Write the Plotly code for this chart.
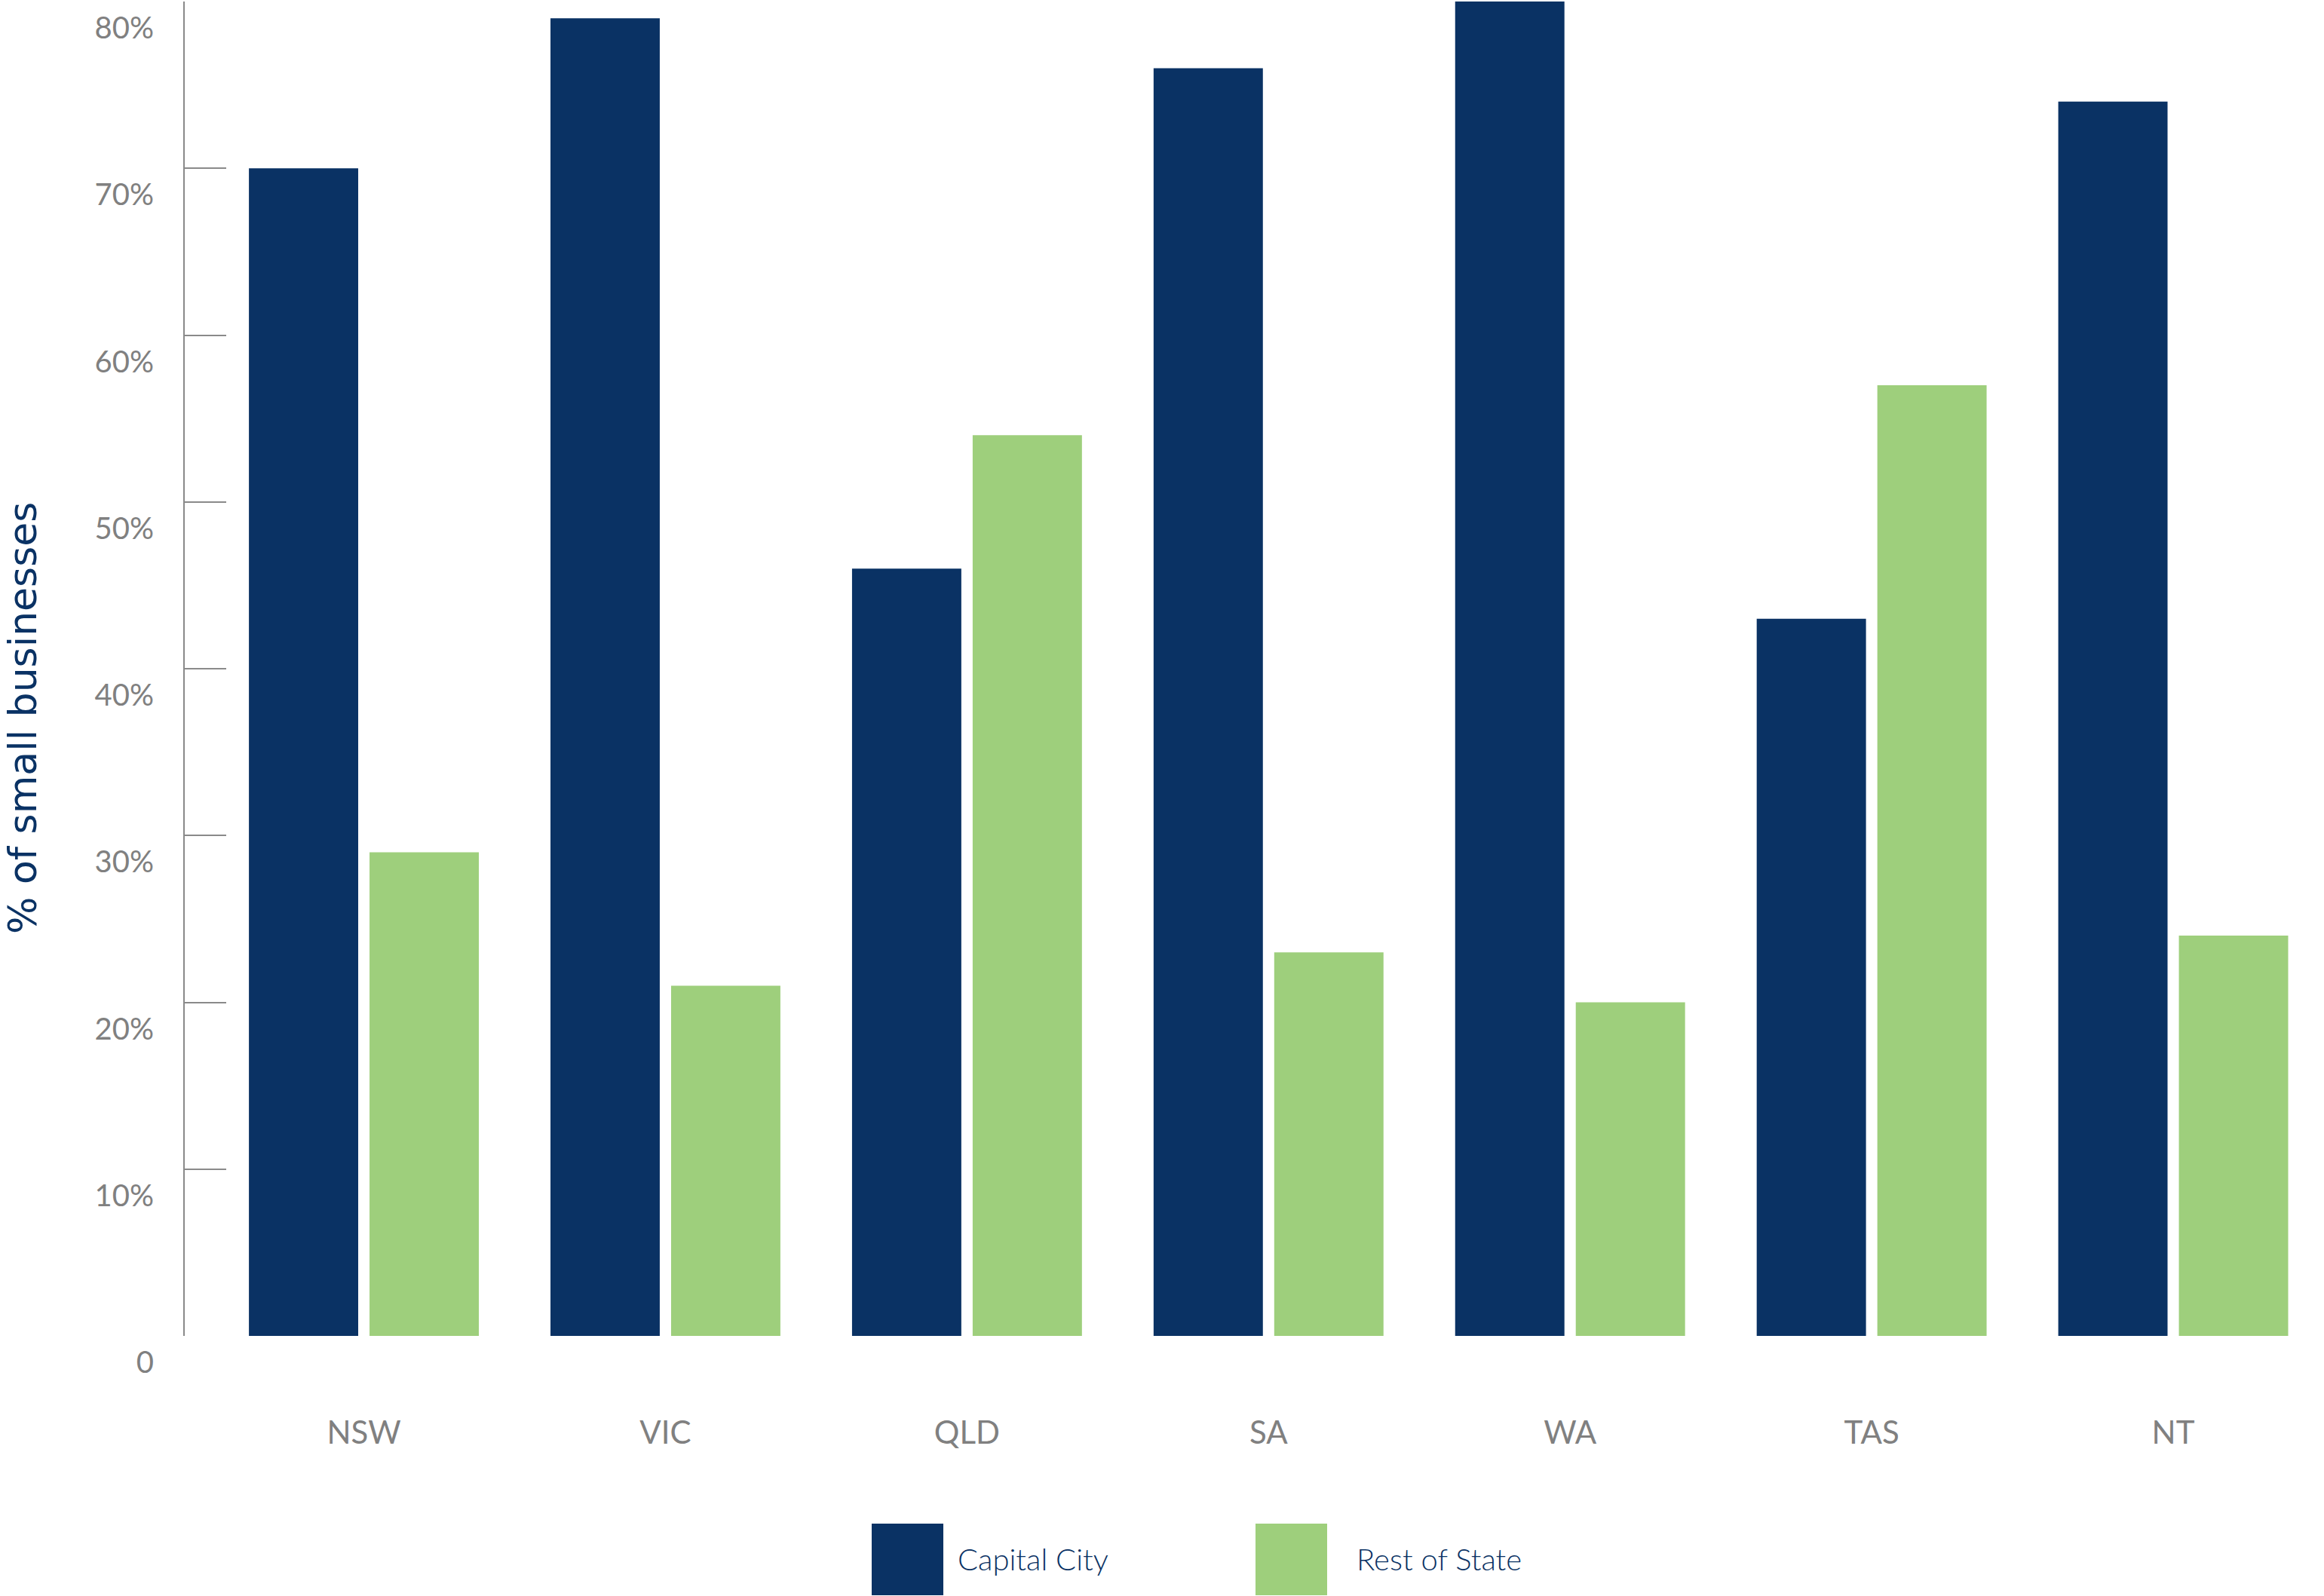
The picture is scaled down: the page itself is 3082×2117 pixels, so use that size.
import plotly.graph_objects as go

# ---- data ----
states = ["NSW", "VIC", "QLD", "SA", "WA", "TAS", "NT"]
capital_city = [70, 79, 46, 76, 80, 43, 74]
rest_of_state = [29, 21, 54, 23, 20, 57, 24]
series_names = ["Capital City", "Rest of State"]
series_colors = ["#0a3264", "#9ecf7c"]
y_tick_values = [0, 10, 20, 30, 40, 50, 60, 70, 80]
y_tick_labels = ["0", "10%", "20%", "30%", "40%", "50%", "60%", "70%", "80%"]

W, H = 3082, 2117
ML, MR, MT, MB = 245, 0, 2, 345
PW, PH = W - ML - MR, H - MT - MB

AXIS_GRAY = "#8a8a8a"
LABEL_GRAY = "#808080"
NAVY = "#0a3264"

fig = go.Figure()
for name, vals, col in zip(series_names, [capital_city, rest_of_state], series_colors):
    fig.add_trace(go.Bar(x=states, y=vals, name=name, marker=dict(color=col, line=dict(width=0)),
                         showlegend=False))

# invisible helper so the label axis (y2) is drawn
fig.add_trace(go.Scatter(x=[states[0]], y=[y_tick_values[0]], yaxis="y2", mode="markers",
                         marker=dict(opacity=0), hoverinfo="skip", showlegend=False))

fig.update_layout(
    width=W, height=H,
    margin=dict(l=ML, r=MR, t=MT, b=MB, pad=0),
    paper_bgcolor="white", plot_bgcolor="white",
    barmode="group", bargap=0.2, bargroupgap=0.094,
    xaxis=dict(type="category", range=[-0.594, 6.5], showline=False, ticks="",
               showgrid=False, zeroline=False,
               tickfont=dict(family="Lato, Roboto, sans-serif", size=42, color=LABEL_GRAY),
               ticklabelstandoff=100),
    yaxis=dict(range=[0, 80], tickvals=y_tick_values[1:], showticklabels=False,
               ticks="inside", ticklen=55, tickwidth=2, tickcolor=AXIS_GRAY,
               showline=True, linecolor=AXIS_GRAY, linewidth=2,
               showgrid=False, zeroline=False),
    yaxis2=dict(range=[0, 80], overlaying="y", side="left", anchor="x",
                tickvals=y_tick_values, ticktext=y_tick_labels, ticks="",
                showline=False, showgrid=False, zeroline=False,
                tickfont=dict(family="Lato, Roboto, sans-serif", size=40, color=LABEL_GRAY),
                ticklabelshift=35, ticklabelstandoff=40),
)

# y-axis title (shifted below centre, as in the original)
fig.add_annotation(text="% of small businesses", textangle=-90, showarrow=False,
                   xref="paper", yref="paper", x=0, xshift=-(ML - 30), xanchor="center",
                   y=(H - MB - 953) / PH, yanchor="middle",
                   font=dict(family="DejaVu Sans", size=52, color=NAVY))

# custom legend (large square swatches)
def px_x(px):
    return (px - ML) / PW

def px_y(py):
    return (H - MB - py) / PH

legend_swatch_left = [1156, 1665]
legend_text_left = [1268, 1797]
sw = 95
top, cy = 2021, 2068
for name, col, sx, tx in zip(series_names, series_colors, legend_swatch_left, legend_text_left):
    fig.add_shape(type="rect", xref="paper", yref="paper",
                  x0=px_x(sx), x1=px_x(sx + sw), y0=px_y(top + sw), y1=px_y(top),
                  fillcolor=col, line=dict(width=0), layer="above")
    fig.add_annotation(text=name, showarrow=False, xref="paper", yref="paper",
                       x=px_x(tx), xanchor="left", y=px_y(cy), yanchor="middle",
                       font=dict(family="Lato, Roboto, sans-serif", size=40, color=NAVY, weight=300))

fig.write_html("out.html", config={"displayModeBar": False},
               post_script="document.body.style.margin='0';")
